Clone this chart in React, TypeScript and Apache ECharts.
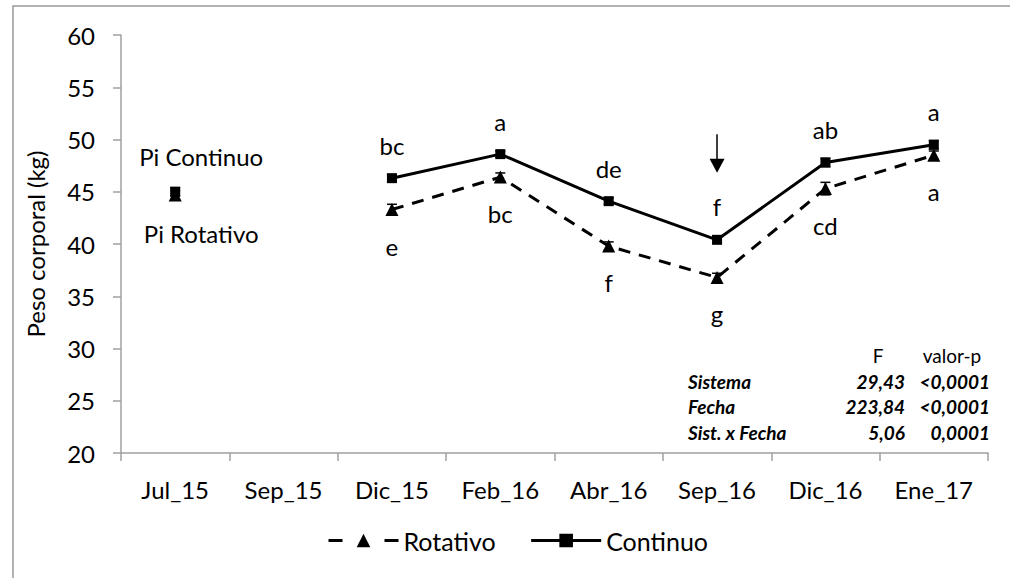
import React, { useEffect, useRef } from "react";
import * as echarts from "echarts";

const categories = ["Jul_15", "Sep_15", "Dic_15", "Feb_16", "Abr_16", "Sep_16", "Dic_16", "Ene_17"];
const continuo: (number | null)[] = [45.0, null, 46.3, 48.6, 44.1, 40.4, 47.8, 49.5];
const rotativo: (number | null)[] = [44.7, null, 43.3, 46.4, 39.8, 36.8, 45.3, 48.5];
const continuoErr: (number | null)[] = [0.4, null, 0.3, 0.3, 0.3, 0.3, 0.4, 0.4];
const rotativoErr: (number | null)[] = [0.4, null, 0.5, 0.4, 0.4, 0.4, 0.6, 0.4];
const continuoLetters = ["Pi Continuo", "", "bc", "a", "de", "f", "ab", "a"];
const rotativoLetters = ["Pi Rotativo", "", "e", "bc", "f", "g", "cd", "a"];
const arrowCategory = "Sep_16";
const arrowFrom = 50.5;
const arrowTo = 47.5;
const yTicks = { min: 20, max: 60, interval: 5 };
const statsHeader = ["F", "valor-p"];
const statsRows = ["Sistema", "Fecha", "Sist. x Fecha"];
const statsF = ["29,43", "223,84", "5,06"];
const statsP = ["<0,0001", "<0,0001", "0,0001"];

const FONT = "Lato";

function errData(vals: (number | null)[], errs: (number | null)[]) {
  const out: any[] = [];
  vals.forEach((v, i) => {
    const e = errs[i];
    if (v != null && e != null) out.push([i, v - e, v + e]);
  });
  return out;
}

function errRender(params: any, api: any) {
  const lo = api.coord([api.value(0), api.value(1)]);
  const hi = api.coord([api.value(0), api.value(2)]);
  const w = 5;
  const st = { stroke: "#000", lineWidth: 1.5 };
  return {
    type: "group",
    children: [
      { type: "line", shape: { x1: lo[0], y1: lo[1], x2: hi[0], y2: hi[1] }, style: st },
      { type: "line", shape: { x1: lo[0] - w, y1: lo[1], x2: lo[0] + w, y2: lo[1] }, style: st },
      { type: "line", shape: { x1: hi[0] - w, y1: hi[1], x2: hi[0] + w, y2: hi[1] }, style: st },
    ],
  };
}

export default function App() {
  const ref = useRef<HTMLDivElement>(null);
  useEffect(() => {
    if (!ref.current) return;
    const chart = echarts.init(ref.current, null, { renderer: "svg" });

    const contData = continuo.map((v, i) => {
      const item: any = { value: v };
      if (i === 0) {
        item.label = { show: true, formatter: continuoLetters[i], position: "top", distance: 18, offset: [26, 0] };
      } else if (continuoLetters[i]) {
        item.label = { show: true, formatter: continuoLetters[i], position: "top", distance: 16 };
      }
      return item;
    });
    const rotData = rotativo.map((v, i) => {
      const item: any = { value: v };
      if (i === 0) {
        item.label = { show: true, formatter: rotativoLetters[i], position: "bottom", distance: 20, offset: [26, 0] };
      } else if (rotativoLetters[i]) {
        item.label = { show: true, formatter: rotativoLetters[i], position: "bottom", distance: 18 };
      }
      return item;
    });

    const labelStyle = { color: "#000", fontFamily: FONT, fontSize: 24 };
    const tableStyle = { fill: "#000", font: `19px ${FONT}` };
    const tableBI = { fill: "#000", font: `italic bold 19px ${FONT}` };
    const rowsY = [381, 406, 432];

    const graphics: any[] = [
      { type: "rect", shape: { x: 13, y: 6, width: 1200, height: 800 }, style: { fill: "none", stroke: "#999", lineWidth: 1.5 }, silent: true },
      { type: "text", x: 878, y: 355, style: { ...tableStyle, text: statsHeader[0], align: "center", verticalAlign: "middle" } },
      { type: "text", x: 952, y: 355, style: { ...tableStyle, text: statsHeader[1], align: "center", verticalAlign: "middle" } },
    ];
    statsRows.forEach((r, i) => {
      graphics.push({ type: "text", x: 688, y: rowsY[i], style: { ...tableBI, text: r, align: "left", verticalAlign: "middle" } });
      graphics.push({ type: "text", x: 905, y: rowsY[i], style: { ...tableBI, text: statsF[i], align: "right", verticalAlign: "middle" } });
      graphics.push({ type: "text", x: 990, y: rowsY[i], style: { ...tableBI, text: statsP[i], align: "right", verticalAlign: "middle" } });
    });

    chart.setOption({
      animation: false,
      textStyle: { fontFamily: FONT },
      grid: { left: 121, right: 22, top: 35, bottom: 125, containLabel: false },
      legend: {
        data: [
          { name: "Rotativo", lineStyle: { type: [14, 42], width: 3 } },
          { name: "Continuo", lineStyle: { type: "solid", width: 3 } },
        ],
        left: 322,
        top: 523,
        itemWidth: 70,
        itemHeight: 17,
        itemGap: 34,
        textStyle: { color: "#000", fontFamily: FONT, fontSize: 25 },
      },
      xAxis: {
        type: "category",
        data: categories,
        boundaryGap: true,
        axisLine: { lineStyle: { color: "#a0a0a0", width: 1.5 } },
        axisTick: { show: true, length: 8, alignWithLabel: false, lineStyle: { color: "#a0a0a0", width: 1.5 } },
        axisLabel: { color: "#000", fontFamily: FONT, fontSize: 24, margin: 24, interval: 0 },
        splitLine: { show: false },
      },
      yAxis: {
        type: "value",
        min: yTicks.min,
        max: yTicks.max,
        interval: yTicks.interval,
        name: "Peso corporal (kg)",
        nameLocation: "middle",
        nameRotate: 90,
        nameGap: 74,
        nameTextStyle: { color: "#000", fontFamily: FONT, fontSize: 24 },
        axisLine: { show: true, lineStyle: { color: "#a0a0a0", width: 1.5 } },
        axisTick: { show: true, length: 8, lineStyle: { color: "#a0a0a0", width: 1.5 } },
        axisLabel: { color: "#000", fontFamily: FONT, fontSize: 24, margin: 26 },
        splitLine: { show: false },
      },
      series: [
        {
          name: "Rotativo",
          type: "line",
          data: rotData,
          connectNulls: false,
          symbol: "triangle",
          symbolSize: 13,
          itemStyle: { color: "#000" },
          lineStyle: { color: "#000", width: 3, type: [12, 9] },
          label: { show: false, ...labelStyle },
          z: 3,
        },
        {
          name: "Continuo",
          type: "line",
          data: contData,
          connectNulls: false,
          symbol: "rect",
          symbolSize: 10,
          itemStyle: { color: "#000" },
          lineStyle: { color: "#000", width: 3, type: "solid" },
          label: { show: false, ...labelStyle },
          z: 4,
          markLine: {
            silent: true,
            symbol: ["none", "triangle"],
            symbolSize: [15, 14],
            label: { show: false },
            lineStyle: { color: "#000", width: 1.5, type: "solid" },
            data: [[{ coord: [arrowCategory, arrowFrom] }, { coord: [arrowCategory, arrowTo] }]],
          },
        },
        {
          name: "errC",
          type: "custom",
          data: errData(continuo, continuoErr),
          renderItem: errRender,
          z: 2,
          silent: true,
        },
        {
          name: "errR",
          type: "custom",
          data: errData(rotativo, rotativoErr),
          renderItem: errRender,
          z: 2,
          silent: true,
        },
      ],
      graphic: graphics,
    });
    return () => chart.dispose();
  }, []);
  return (
    <div
      ref={ref}
      style={{ position: "fixed", left: 0, top: 0, width: 1010, height: 578, background: "#fff" }}
    />
  );
}
